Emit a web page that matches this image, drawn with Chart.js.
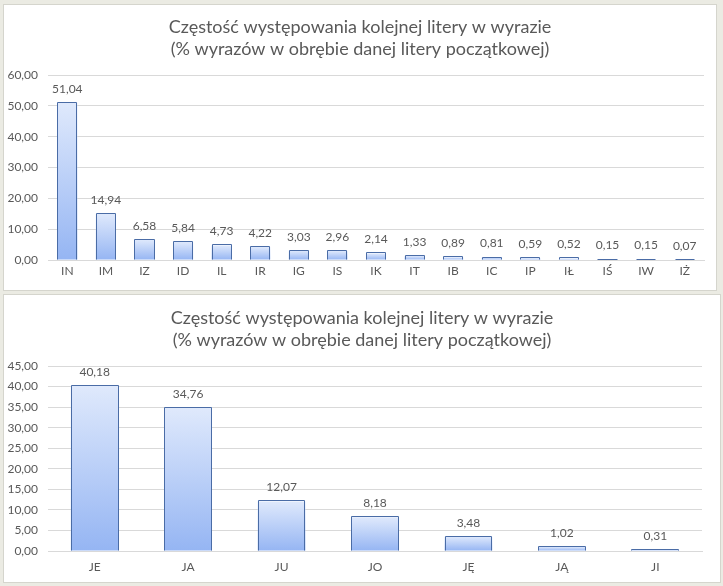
<!DOCTYPE html>
<html>
<head>
<meta charset="utf-8">
<script src="https://cdn.jsdelivr.net/npm/chart.js@4.4.1/dist/chart.umd.min.js"></script>
<style>
  html, body { margin: 0; padding: 0; background: #ebebe3; }
  body { width: 723px; height: 586px; position: relative; overflow: hidden; }
  .panel { position: absolute; background: #ffffff; border: 1px solid #d5d5cd; }
  #p1 { left: 3px; top: 4px; width: 712px; height: 285px; }
  #p2 { left: 3px; top: 294px; width: 716px; height: 287px; }
  canvas { display: block; }
</style>
</head>
<body>
<div class="panel" id="p1"><canvas id="c1"></canvas></div>
<div class="panel" id="p2"><canvas id="c2"></canvas></div>
<script>
const titleLines = ['Częstość występowania kolejnej litery w wyrazie', '(% wyrazów w obrębie danej litery początkowej)'];

const labelsI = ['IN','IM','IZ','ID','IL','IR','IG','IS','IK','IT','IB','IC','IP','IŁ','IŚ','IW','IŻ'];
const valuesI = [51.04,14.94,6.58,5.84,4.73,4.22,3.03,2.96,2.14,1.33,0.89,0.81,0.59,0.52,0.15,0.15,0.07];
const ticksI = { min: 0, max: 60, step: 10 };

const labelsJ = ['JE','JA','JU','JO','JĘ','JĄ','JI'];
const valuesJ = [40.18,34.76,12.07,8.18,3.48,1.02,0.31];
const ticksJ = { min: 0, max: 45, step: 5 };

const FONT = 'Lato, "Open Sans", sans-serif';
const TXT = '#595959';
const BORDER = '#4a6ca6';
const fmt = v => Number(v).toFixed(2).replace('.', ',');

function barGradient(ctx) {
  const chart = ctx.chart;
  const y = chart.scales && chart.scales.y;
  if (!y || ctx.parsed === undefined) return '#bcd0f7';
  const top = y.getPixelForValue(ctx.parsed.y);
  const bot = y.getPixelForValue(0);
  if (!isFinite(top) || !isFinite(bot) || top === bot) return '#dce7fb';
  const g = chart.ctx.createLinearGradient(0, top, 0, bot);
  g.addColorStop(0, '#dfe9fc');
  g.addColorStop(1, '#95b5f3');
  return g;
}

const extrasPlugin = {
  id: 'extras',
  afterDatasetsDraw(chart, args, opts) {
    const c = chart.ctx;
    c.save();
    const meta = chart.getDatasetMeta(0);
    // bar outlines (drawn centred on the bar edges, like the reference)
    c.strokeStyle = BORDER;
    c.lineWidth = 1;
    meta.data.forEach(bar => {
      const p = bar.getProps(['x', 'y', 'base', 'width'], true);
      const l = Math.round(p.x - p.width / 2) + 0.5;
      const r = Math.round(p.x + p.width / 2) - 0.5;
      const t = Math.round(p.y) - 0.5;
      const b = Math.round(p.base) - 0.5;
      c.beginPath();
      c.moveTo(l, b); c.lineTo(l, t); c.lineTo(r, t); c.lineTo(r, b);
      c.stroke();
    });
    c.fillStyle = TXT;
    c.font = '12px ' + FONT;
    c.textAlign = 'center';
    c.textBaseline = 'middle';
    meta.data.forEach((bar, i) => {
      c.fillText(fmt(chart.data.datasets[0].data[i]), bar.x, bar.y - 14);
    });
    c.font = '18px ' + FONT;
    c.textBaseline = 'alphabetic';
    const cx = chart.width / 2 + opts.dx;
    c.fillText(titleLines[0], cx, opts.y1);
    c.fillText(titleLines[1], cx, opts.y1 + 22);
    c.restore();
  }
};

function makeChart(id, w, h, labels, values, tk, cfg) {
  const canvas = document.getElementById(id);
  canvas.width = w; canvas.height = h;
  return new Chart(canvas, {
    type: 'bar',
    data: {
      labels: labels,
      datasets: [{
        data: values,
        backgroundColor: barGradient,
        borderWidth: 0,
        categoryPercentage: 1,
        barPercentage: cfg.barPct
      }]
    },
    options: {
      responsive: false,
      animation: false,
      devicePixelRatio: 1,
      layout: { padding: { left: 0, right: cfg.padRight, top: cfg.padTop, bottom: 0 } },
      plugins: {
        legend: { display: false },
        tooltip: { enabled: false },
        title: { display: false },
        extras: { y1: cfg.titleY, dx: cfg.titleDx }
      },
      scales: {
        x: {
          grid: { display: false, drawTicks: false },
          border: { display: true, color: '#d9d9d9', width: 1 },
          ticks: { color: TXT, font: { family: FONT, size: 12 }, padding: cfg.xPad, maxRotation: 0, autoSkip: false },
          afterFit: s => { s.height = cfg.xHeight; }
        },
        y: {
          min: tk.min, max: tk.max,
          grid: { color: '#d9d9d9', drawTicks: false },
          border: { display: false },
          ticks: { stepSize: tk.step, color: TXT, font: { family: FONT, size: 12 }, padding: 10, callback: v => fmt(v) },
          afterFit: s => { s.width = 44; }
        }
      }
    },
    plugins: [extrasPlugin]
  });
}

makeChart('c1', 712, 285, labelsI, valuesI, ticksI,
  { barPct: 0.52, padRight: 12, padTop: 70, xHeight: 30, xPad: 4, titleY: 28, titleDx: 0 });
makeChart('c2', 716, 287, labelsJ, valuesJ, ticksJ,
  { barPct: 0.51, padRight: 18, padTop: 71, xHeight: 31, xPad: 9, titleY: 29, titleDx: 0 });
</script>
</body>
</html>
